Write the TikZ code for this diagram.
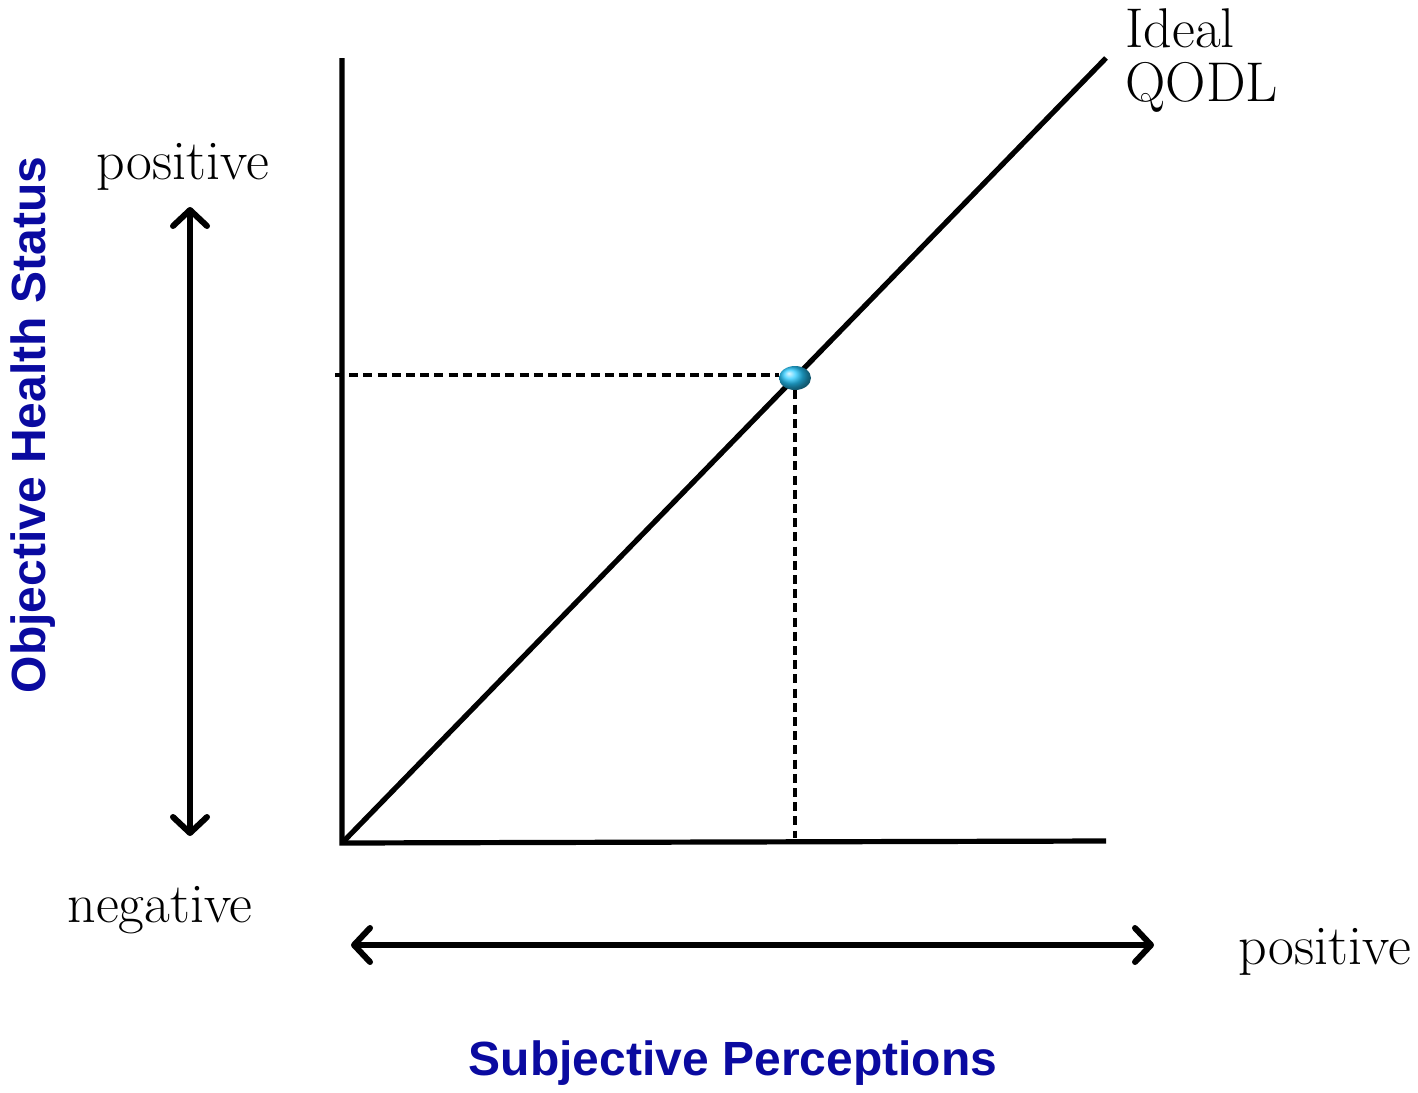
\documentclass[tikz,border=0pt]{standalone}
\usepackage{fontspec}
\newfontfamily\arialb{Liberation Sans}[BoldFont={* Bold}]
\usetikzlibrary{arrows.meta,shapes.geometric}
\definecolor{lblue}{RGB}{10,10,160}
\tikzset{
  axisline/.style={line width=2.6pt,black},
  guide/.style={line width=1.6pt,dash pattern=on 4.5pt off 2.6pt},
  dblarrow/.style={line width=3pt,{Straight Barb[length=8pt,width=17pt,round]}-{Straight Barb[length=8pt,width=17pt,round]}},
  serif/.style={font=\fontsize{28}{30}\selectfont,inner sep=0pt},
  bluelab/.style={font=\fontsize{24}{28}\selectfont\arialb\bfseries,text=lblue,inner sep=0pt}
}
\begin{document}
\begin{tikzpicture}[x=0.5pt,y=-0.5pt]
\useasboundingbox (0,0) rectangle (1418,1092);
\coordinate (O) at (342,843);
\coordinate (Ytop) at (342,58);
\coordinate (Xend) at (1106,841);
\coordinate (Dend) at (1106,58);
\coordinate (Hs) at (335,375);
\coordinate (Vb) at (795,838);
\draw[axisline,line cap=butt] (Ytop) -- (O) -- (Xend);
\draw[axisline] (O) -- (Dend);
\node[ellipse,inner sep=0pt,minimum width=16pt,minimum height=12pt,shading=ball,ball color=cyan!75!blue!85!white,draw=none] (dot) at (795,378) {};
\draw[guide] (Hs) -- (Hs -| dot.west);
\draw[guide] (dot.south) -- (Vb);
\coordinate (ua) at (190,207);
\coordinate (ub) at (190,836);
\draw[dblarrow] (ua) -- (ub);
\coordinate (la) at (351,945);
\coordinate (lb) at (1154,945);
\draw[dblarrow] (la) -- (lb);
\node[serif] (pos1) at (183,167) {positive};
\node[serif] (neg) at (160,910) {negative};
\node[serif] (pos2) at (1325,952) {positive};
\node[serif,anchor=west] (ideal) at (1125,28) {Ideal};
\node[serif,anchor=west] (qodl) at (1125,87) {QODL};
\node[bluelab] (xlab) at (733,1063) {Subjective Perceptions};
\node[bluelab,rotate=90] (ylab) at (33,425) {Objective Health Status};
\end{tikzpicture}
\end{document}
